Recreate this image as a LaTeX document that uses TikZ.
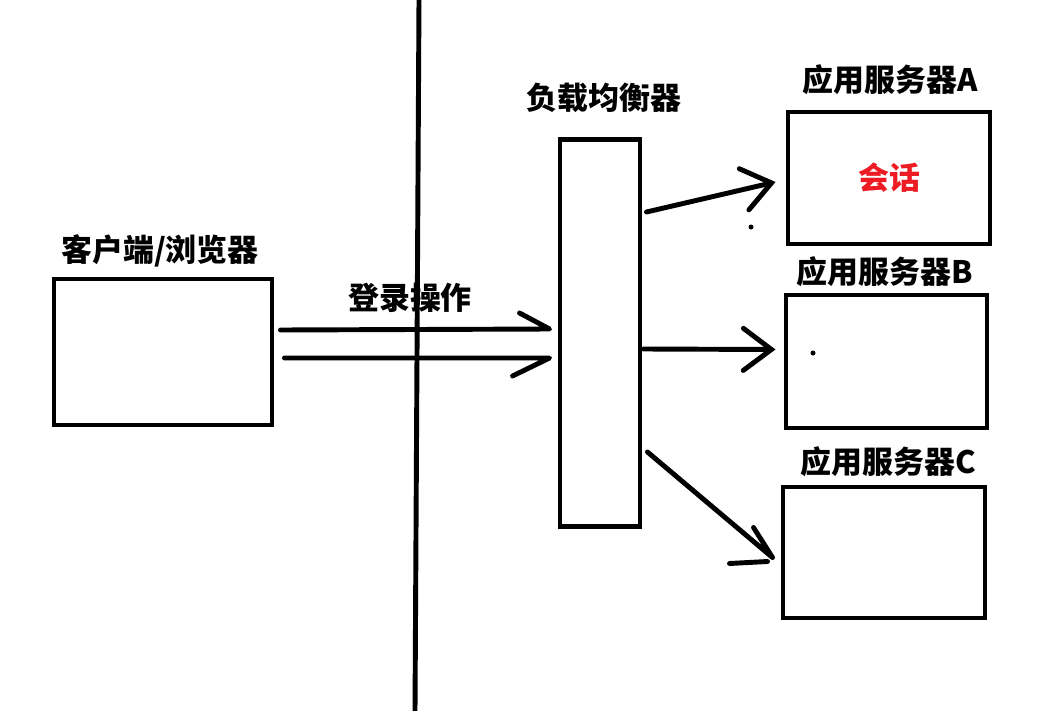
\documentclass[tikz,border=0pt]{standalone}
\usepackage{fontspec}
\setmainfont{Noto Sans CJK SC}
\usetikzlibrary{arrows.meta,positioning}
\definecolor{sessred}{RGB}{237,28,36}
\tikzset{box/.style = {draw, rectangle, line width = 3.5pt},
         lbl/.style = {font = \fontsize{22}{26}\selectfont\bfseries, inner sep = 0pt},
         conn/.style = {line width = 3.5pt, line cap = round, line join = round,
                        -{Straight Barb[length = 20pt, width = 30pt, line cap = round]}},
         halfconn/.style = {line width = 3.5pt, line cap = round, line join = round},
}

\begin{document}
\begin{tikzpicture}[x = 0.025cm, y = -0.025cm]

  \useasboundingbox (0,0) rectangle (1055,711);

  \node[box, minimum width = 5.45cm, minimum height = 3.65cm] (client) at (163,352) {};
  \node[box, minimum width = 2cm, minimum height = 9.65cm] (lb) at (600,333) {};
  \node[box, minimum width = 5.05cm, minimum height = 3.3cm] (srvA) at (889,178) {};
  \node[box, minimum width = 5.025cm, minimum height = 3.325cm] (srvB) at (886.5,361.5) {};
  \node[box, minimum width = 5.05cm, minimum height = 3.275cm] (srvC) at (884,552.5) {};

  \node[lbl] (clientlbl) at (160,251) {客户端/浏览器};
  \node[lbl] (lblogin) at (410,298) {登录操作};
  \node[lbl] (lblbl) at (604,98) {负载均衡器};
  \node[lbl] (srvAlbl) at (890,80) {应用服务器A};
  \node[lbl] (srvBlbl) at (885,272) {应用服务器B};
  \node[lbl] (srvClbl) at (888,462) {应用服务器C};
  \node[lbl, text = sessred] (session) at (srvA) {会话};

  \coordinate (wtop) at (419,0);
  \coordinate (wbot) at (415,711);
  \draw[line width = 3.5pt] (wtop) -- (wbot);

  % login request, drawn as two half-headed strokes
  \coordinate (tipup) at ([shift = {(-8,-4)}]lb.west);
  \coordinate (tipdown) at ([shift = {(-8,25)}]lb.west);
  \draw[halfconn] ([shift = {(6,-22)}]client.east) -- (tipup) -- ++(-30,-16);
  \draw[halfconn] ([shift = {(10,6)}]client.east) -- (tipdown) -- ++(-37,18);

  \draw[conn] ([shift = {(4,-121)}]lb.east) -- ([shift = {(-10,4)}]srvA.west);
  \draw[conn] ([shift = {(1,16)}]lb.east) -- ([shift = {(-8,-12)}]srvB.west);

  % to server C, head drawn by hand
  \coordinate (tipC) at ([shift = {(-8,5)}]srvC.west);
  \draw[halfconn] ([shift = {(5,119)}]lb.east) -- (tipC) -- ++(-19,-30);
  \draw[halfconn] ([shift = {(-5,4)}]tipC) -- ++(-38,2);

  % stray dots
  \fill (751,227) circle (2.5);
  \fill (813,353) circle (2.5);

\end{tikzpicture}
\end{document}
